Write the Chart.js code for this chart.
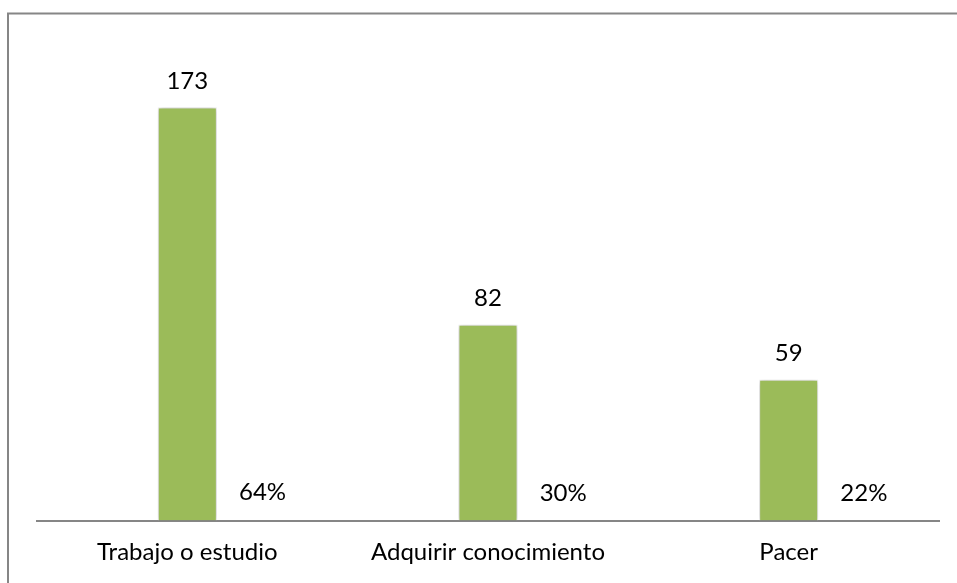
<!DOCTYPE html>
<html>
<head>
<meta charset="utf-8">
<script src="https://cdn.jsdelivr.net/npm/chart.js@4.4.1/dist/chart.umd.min.js"></script>
<style>
  html, body { margin: 0; padding: 0; background: #fff; }
  #wrap { width: 957px; height: 583px; position: relative; }
</style>
</head>
<body>
<div id="wrap"><canvas id="c" width="957" height="583"></canvas></div>
<script>
const categories = ['Trabajo o estudio', 'Adquirir conocimiento', 'Pacer'];
const counts = [173, 82, 59];
const shares = [0.64, 0.30, 0.22];

const FONT = 'Lato, "Open Sans", sans-serif';
const GREEN = '#9BBB59';

const framePlugin = {
  id: 'frame',
  beforeDraw(chart) {
    const ctx = chart.ctx;
    ctx.save();
    ctx.fillStyle = '#ffffff';
    ctx.fillRect(0, 0, chart.width, chart.height);
    ctx.strokeStyle = '#868686';
    ctx.lineWidth = 2;
    ctx.beginPath();
    ctx.moveTo(8, chart.height);
    ctx.lineTo(8, 13.5);
    ctx.lineTo(chart.width, 13.5);
    ctx.stroke();
    ctx.restore();
  }
};

const shadowPlugin = {
  id: 'barShadow',
  beforeDatasetDraw(chart, args) {
    if (args.index !== 0) return;
    const ctx = chart.ctx;
    ctx.save();
    ctx.shadowColor = 'rgba(0,0,0,0.3)';
    ctx.shadowBlur = 6;
    ctx.shadowOffsetX = 0;
    ctx.shadowOffsetY = 0;
  },
  afterDatasetDraw(chart, args) {
    if (args.index !== 0) return;
    chart.ctx.restore();
  }
};

const labelPlugin = {
  id: 'valueLabels',
  afterDatasetsDraw(chart) {
    const ctx = chart.ctx;
    ctx.save();
    ctx.font = '24px ' + FONT;
    ctx.fillStyle = '#000';
    ctx.textAlign = 'center';
    ctx.textBaseline = 'middle';
    chart.data.datasets.forEach((ds, di) => {
      const meta = chart.getDatasetMeta(di);
      meta.data.forEach((el, i) => {
        const v = ds.data[i];
        const val = typeof v === 'object' ? v.y : v;
        const txt = di === 0 ? String(val) : Math.round(val * 100) + '%';
        ctx.fillText(txt, el.x, el.y - 26.5);
      });
    });
    ctx.restore();
  }
};

new Chart(document.getElementById('c'), {
  type: 'bar',
  data: {
    labels: categories,
    datasets: [
      {
        label: 'Cantidad',
        data: counts,
        xAxisID: 'x',
        grouped: false,
        backgroundColor: GREEN,
        borderColor: 'rgba(255,255,255,0.85)',
        borderWidth: 1,
        categoryPercentage: 0.5,
        barPercentage: 0.3925
      },
      {
        label: 'Porcentaje',
        data: shares.map((v, i) => ({ x: i, y: v })),
        xAxisID: 'x2',
        grouped: false,
        backgroundColor: 'rgba(0,0,0,0)',
        borderWidth: 0,
        categoryPercentage: 0.5,
        barPercentage: 0.3925
      }
    ]
  },
  options: {
    responsive: false,
    animation: false,
    devicePixelRatio: 1,
    layout: { padding: { left: 37, right: 18, top: 43, bottom: 0 } },
    plugins: { legend: { display: false }, tooltip: { enabled: false } },
    scales: {
      x: {
        type: 'category',
        grid: { display: false, drawTicks: false },
        border: { display: true, color: '#868686', width: 2 },
        ticks: { color: '#000', font: { family: FONT, size: 24, lineHeight: 1.1 }, padding: 18, maxRotation: 0, autoSkip: false }
      },
      x2: {
        type: 'linear',
        display: false,
        offset: false,
        grace: 0,
        bounds: 'data',
        min: -0.75,
        max: 2.25
      },
      y: {
        display: false,
        min: 0,
        max: 200
      }
    }
  },
  plugins: [framePlugin, shadowPlugin, labelPlugin]
});
</script>
</body>
</html>
